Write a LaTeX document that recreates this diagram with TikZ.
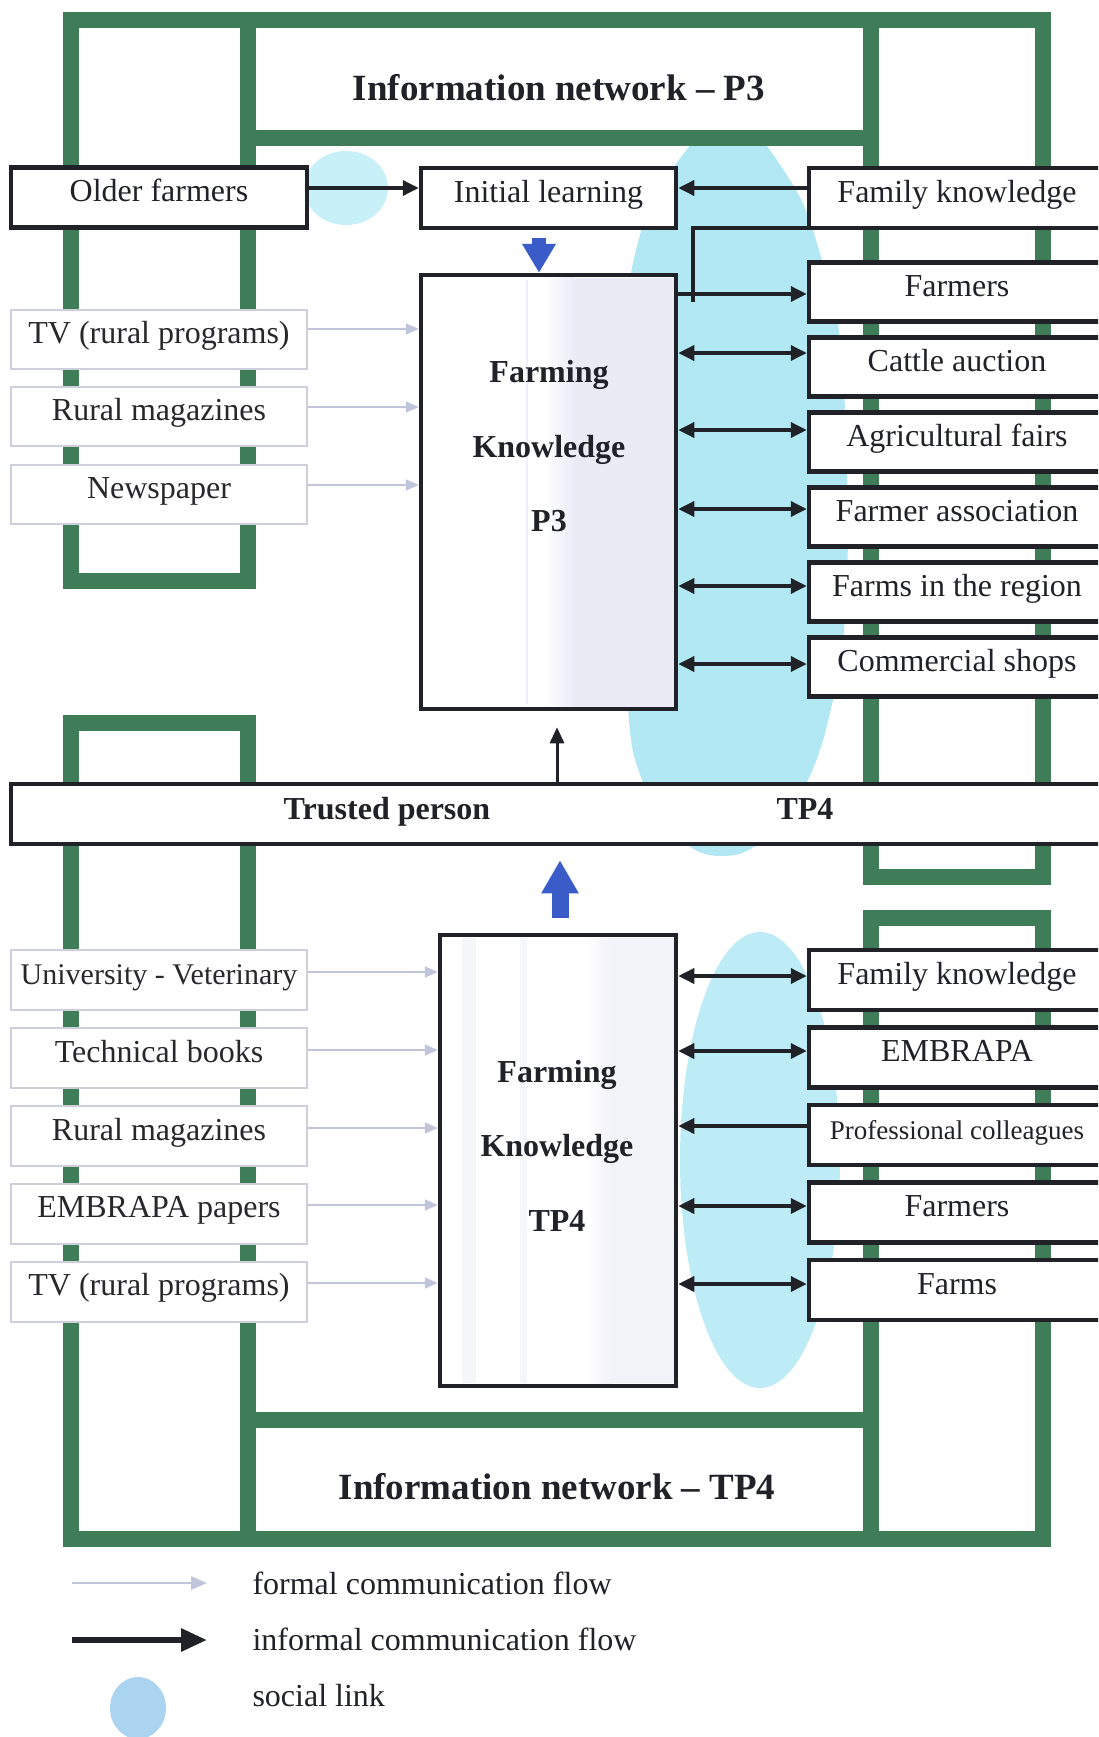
\documentclass[tikz,border=0pt]{standalone}
\usepackage{fontspec}
\setmainfont{Liberation Serif}
\usetikzlibrary{arrows.meta}

\definecolor{netgreen}{RGB}{62,125,88}
\definecolor{ink}{RGB}{32,34,40}
\definecolor{formalgray}{RGB}{192,197,220}
\definecolor{grayedge}{RGB}{205,207,220}
\definecolor{social}{RGB}{178,232,243}
\definecolor{sociallow}{RGB}{190,236,246}
\definecolor{socialsmall}{RGB}{200,240,248}
\definecolor{legendblue}{RGB}{170,212,240}
\definecolor{lav}{RGB}{222,224,240}
\definecolor{flowblue}{RGB}{58,92,200}
\definecolor{gtext}{RGB}{40,40,44}

\begin{document}
\begin{tikzpicture}[x=1pt,y=-1pt,
  bodyfont/.style={font=\fontsize{32}{38}\selectfont},
  boldfont/.style={font=\fontsize{32}{38}\selectfont\bfseries},
  titlefont/.style={font=\fontsize{37}{44}\selectfont\bfseries},
  srcbox/.style={draw=ink, line width=4.5pt, fill=white, inner sep=0pt, text=ink,
                 text height=20pt, text depth=12pt, minimum height=60pt, bodyfont},
  rightbox/.style={srcbox, minimum width=296pt},
  mediabox/.style={draw=grayedge, line width=2pt, fill=white, inner sep=0pt, text=gtext,
                 text height=20pt, text depth=12pt, minimum width=296pt, minimum height=59pt, bodyfont},
  knowbox/.style={draw=ink, line width=4.5pt, fill=white, inner sep=0pt},
  boxlabel/.style={boldfont, anchor=base, text=ink},
  greenbar/.style={draw=netgreen, line width=16pt, line cap=rect, line join=miter},
  informal/.style={draw=ink, line width=3.5pt, -{Triangle[length=16pt,width=15pt]}},
  twoway/.style={draw=ink, line width=3.5pt, {Triangle[length=16pt,width=15pt]}-{Triangle[length=16pt,width=15pt]}},
  formal/.style={draw=formalgray, line width=2pt, -{Triangle[length=13pt,width=11pt]}},
  legendtext/.style={bodyfont, anchor=base west, text=ink}
]
% canvas
\fill[white] (0,0) rectangle (1098,1737);
\useasboundingbox (0,0) rectangle (1098,1737);
\clip (0,0) rectangle (1098,1737);

% social links (drawn first, boxes sit on top)
\begin{scope}
  \clip (0,138) rectangle (1098,1737);
  \fill[social] plot[smooth cycle, tension=0.7] coordinates {
    (730,120) (790,180) (822,260) (840,340) (847,480) (846,600) (835,690)
    (808,780) (765,838) (722,856) (680,838) (642,780) (627,690) (624,480)
    (626,340) (636,250) (668,175)};
\end{scope}
\fill[socialsmall] (346,188) ellipse [x radius=42pt, y radius=37pt];
\fill[sociallow] (760,1160) ellipse [x radius=80pt, y radius=228pt];

% network frames
\draw[greenbar] (248,581) -- (71,581) -- (71,20) -- (1043,20) -- (1043,877) -- (870.5,877) -- (870.5,20);
\draw[greenbar] (248,20) -- (248,581);
\draw[greenbar] (248,137.5) -- (870.5,137.5);
\draw[greenbar] (248,723) -- (71,723) -- (71,1539) -- (1043,1539) -- (1043,918) -- (870.5,918) -- (870.5,1539);
\draw[greenbar] (248,723) -- (248,1539);
\draw[greenbar] (248,1420) -- (870.5,1420);

\node[titlefont, anchor=base, text=ink] (titleP3) at (559,100) {Information network – P3};
\node[titlefont, anchor=base, text=ink] (titleTP4) at (557,1499) {Information network – TP4};

% ---------- P3 ----------
\node[srcbox, minimum width=296pt] (old) at (159,197.5) {Older farmers};
\node[srcbox, minimum width=255pt] (init) at (548.5,198) {Initial learning};
\node[rightbox] (famP3) at (957,198) {Family knowledge};
\node[rightbox, minimum height=59pt] (farmersP3) at (957,292) {Farmers};
\node[rightbox, minimum height=59pt] (cattle) at (957,367) {Cattle auction};
\node[rightbox, minimum height=59pt] (fairs) at (957,442) {Agricultural fairs};
\node[rightbox, minimum height=59pt] (assoc) at (957,517) {Farmer association};
\node[rightbox, minimum height=59pt] (region) at (957,592) {Farms in the region};
\node[rightbox, minimum height=59pt] (shops) at (957,667) {Commercial shops};

\node[mediabox] (tvP3) at (159,339.5) {TV (rural programs)};
\node[mediabox] (magP3) at (159,416) {Rural magazines};
\node[mediabox] (news) at (159,494) {Newspaper};

\node[knowbox, minimum width=255pt, minimum height=434pt] (kP3) at (548.5,492) {};
\shade[left color=white, right color=lav!65] (545,277.5) rectangle (575,706.5);
\fill[lav!65] (575,277.5) rectangle (673.7,706.5);
\draw[lav!50, line width=2pt] (527,280) -- (527,704);
\node[boxlabel] (kP3a) at (549,382) {Farming};
\node[boxlabel] (kP3b) at (549,457) {Knowledge};
\node[boxlabel] (kP3c) at (549,531) {P3};

% ---------- trusted person ----------
\node[srcbox, minimum width=1099pt, minimum height=60pt] (trusted) at (560.5,814) {};
\node[boxlabel] (trustedName) at (387,819) {Trusted person};
\node[boxlabel] (trustedCode) at (805,819) {TP4};

% ---------- TP4 ----------
\node[knowbox, minimum width=236pt, minimum height=451pt] (kTP4) at (558,1160.5) {};
\fill[lav!30] (462,938) rectangle (476,1383);
\fill[lav!30] (520,938) rectangle (527,1383);
\shade[left color=white, right color=lav!40] (585,938) rectangle (612,1383);
\fill[lav!40] (612,938) rectangle (673.7,1383);
\node[boxlabel] (kTP4a) at (557,1082) {Farming};
\node[boxlabel] (kTP4b) at (557,1156) {Knowledge};
\node[boxlabel] (kTP4c) at (557,1231) {TP4};

\node[rightbox] (famTP4) at (957,980) {Family knowledge};
\node[rightbox] (embrapa) at (957,1057.5) {EMBRAPA};
\node[rightbox, font=\fontsize{27}{32}\selectfont] (colleagues) at (957,1135) {Professional colleagues};
\node[rightbox] (farmersTP4) at (957,1212.5) {Farmers};
\node[rightbox] (farms) at (957,1290) {Farms};

\node[mediabox, minimum height=60pt, font=\fontsize{30}{36}\selectfont] (univ) at (159,980) {University - Veterinary};
\node[mediabox, minimum height=60pt] (books) at (159,1058) {Technical books};
\node[mediabox, minimum height=60pt] (magTP4) at (159,1136) {Rural magazines};
\node[mediabox, minimum height=60pt] (papers) at (159,1213.5) {EMBRAPA papers};
\node[mediabox, minimum height=60pt] (tvTP4) at (159,1291.5) {TV (rural programs)};

% ---------- connector heights ----------
\coordinate (yInit) at (0,188);
\coordinate (yFarmA) at (0,294);
\coordinate (yCattle) at (0,353);
\coordinate (yFairs) at (0,430);
\coordinate (yAssoc) at (0,509);
\coordinate (yRegion) at (0,586);
\coordinate (yShops) at (0,664);
\coordinate (yTvP3) at (0,329);
\coordinate (yMagP3) at (0,407);
\coordinate (yNews) at (0,485);
\coordinate (yFamB) at (0,976);
\coordinate (yEmb) at (0,1051);
\coordinate (yCol) at (0,1126);
\coordinate (yFarmB) at (0,1206);
\coordinate (yFarms) at (0,1284);
\coordinate (yUniv) at (0,972);
\coordinate (yBooks) at (0,1050);
\coordinate (yMagB) at (0,1128);
\coordinate (yPapers) at (0,1205);
\coordinate (yTvB) at (0,1283);
\coordinate (xThin) at (557,0);
\coordinate (xDown) at (539,0);
\coordinate (xUp) at (560,0);
\coordinate (fkDrop) at (693,302);

% ---------- informal flows P3 ----------
\draw[informal] (old.east |- yInit) -- (init.west |- yInit);
\draw[informal] (famP3.west |- yInit) -- (init.east |- yInit);
\draw[draw=ink, line width=3.5pt] ([yshift=2.5pt]famP3.south west) -| (fkDrop);
\draw[informal] (kP3.east |- yFarmA) -- (farmersP3.west |- yFarmA);
\draw[twoway] (kP3.east |- yCattle) -- (cattle.west |- yCattle);
\draw[twoway] (kP3.east |- yFairs) -- (fairs.west |- yFairs);
\draw[twoway] (kP3.east |- yAssoc) -- (assoc.west |- yAssoc);
\draw[twoway] (kP3.east |- yRegion) -- (region.west |- yRegion);
\draw[twoway] (kP3.east |- yShops) -- (shops.west |- yShops);

% ---------- formal flows ----------
\draw[formal] (tvP3.east |- yTvP3) -- (kP3.west |- yTvP3);
\draw[formal] (magP3.east |- yMagP3) -- (kP3.west |- yMagP3);
\draw[formal] (news.east |- yNews) -- (kP3.west |- yNews);
\draw[formal] (univ.east |- yUniv) -- (kTP4.west |- yUniv);
\draw[formal] (books.east |- yBooks) -- (kTP4.west |- yBooks);
\draw[formal] (magTP4.east |- yMagB) -- (kTP4.west |- yMagB);
\draw[formal] (papers.east |- yPapers) -- (kTP4.west |- yPapers);
\draw[formal] (tvTP4.east |- yTvB) -- (kTP4.west |- yTvB);

% ---------- informal flows TP4 ----------
\draw[twoway] (kTP4.east |- yFamB) -- (famTP4.west |- yFamB);
\draw[twoway] (kTP4.east |- yEmb) -- (embrapa.west |- yEmb);
\draw[informal] (colleagues.west |- yCol) -- (kTP4.east |- yCol);
\draw[twoway] (kTP4.east |- yFarmB) -- (farmersTP4.west |- yFarmB);
\draw[twoway] (kTP4.east |- yFarms) -- (farms.west |- yFarms);

% ---------- vertical flows ----------
\draw[draw=flowblue, line width=14pt, -{Triangle[length=29pt,width=32pt]}]
  ([yshift=-8pt]init.south -| xDown) -- (kP3.north -| xDown);
\draw[draw=ink, line width=3pt, -{Triangle[length=16pt,width=14pt]}, shorten >=16pt]
  (trusted.north -| xThin) -- (kP3.south -| xThin);
\draw[draw=flowblue, line width=17pt, -{Triangle[length=33pt,width=35pt]}, shorten <=15pt, shorten >=14pt]
  (kTP4.north -| xUp) -- (trusted.south -| xUp);

% ---------- legend ----------
\coordinate (lgA1) at (72,1583);
\coordinate (lgA2) at (207,1583);
\coordinate (lgB1) at (72,1640);
\coordinate (lgB2) at (207,1640);
\draw[formal, line width=2.5pt, -{Triangle[length=16pt,width=13pt]}] (lgA1) -- (lgA2);
\draw[draw=ink, line width=6pt, -{Triangle[length=26pt,width=22pt]}] (lgB1) -- (lgB2);
\fill[legendblue] (138,1708) ellipse [x radius=28pt, y radius=31pt];
\node[legendtext] (lgFormal) at (249,1594) {formal communication flow};
\node[legendtext] (lgInformal) at (249,1650) {informal communication flow};
\node[legendtext] (lgSocial) at (249,1706) {social link};
\end{tikzpicture}
\end{document}
